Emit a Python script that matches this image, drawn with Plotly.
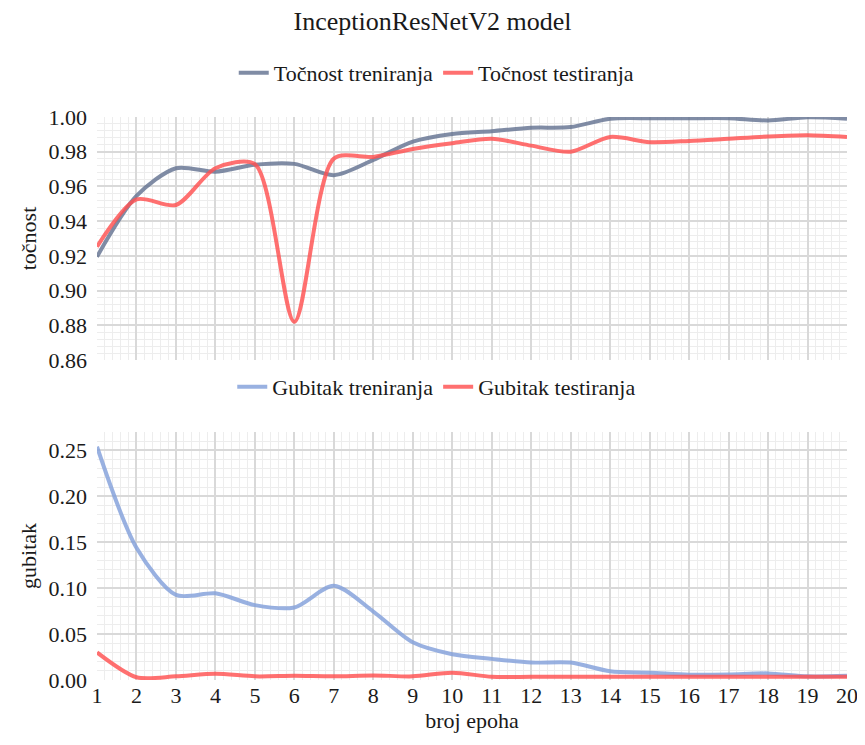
import plotly.graph_objects as go
from plotly.subplots import make_subplots

epochs = list(range(1, 21))
acc_train = [0.9195, 0.9545, 0.9705, 0.9685, 0.9725, 0.9730, 0.9665, 0.9753, 0.9858, 0.9902,
             0.9918, 0.9938, 0.9942, 0.9990, 0.9993, 0.9993, 0.9993, 0.9980, 0.9998, 0.9990]
acc_test = [0.9253, 0.9525, 0.9493, 0.9705, 0.9728, 0.8820, 0.9760, 0.9770, 0.9816, 0.9849,
            0.9875, 0.9835, 0.9800, 0.9885, 0.9855, 0.9862, 0.9875, 0.9888, 0.9895, 0.9885]
loss_train = [0.2540, 0.1440, 0.0926, 0.0944, 0.0815, 0.0790, 0.1026, 0.0745, 0.0410, 0.0280,
              0.0230, 0.0190, 0.0190, 0.0095, 0.0080, 0.0058, 0.0060, 0.0072, 0.0040, 0.0045]
loss_test = [0.0300, 0.0030, 0.0040, 0.0068, 0.0040, 0.0045, 0.0040, 0.0050, 0.0040, 0.0080,
             0.0035, 0.0035, 0.0035, 0.0035, 0.0035, 0.0035, 0.0035, 0.0035, 0.0035, 0.0035]
x_ticks = list(range(1, 21))

FONT = "Liberation Serif, 'Times New Roman', 'DejaVu Serif', serif"
TXT = "#1a1a1a"
C_GRAY = "rgba(100,115,145,0.82)"
C_RED = "rgba(255,80,80,0.82)"
C_BLUE = "rgba(130,160,218,0.82)"

# page offset of 8px (body margin) is compensated in the figure size/margins
W, H = 849, 729
fig = make_subplots(rows=2, cols=1, shared_xaxes=False, vertical_spacing=0.0)

def add(y, name, color, row, legend):
    fig.add_trace(go.Scatter(x=epochs, y=y, name=name, mode="lines",
                             line=dict(color=color, width=4, shape="spline", smoothing=0.8),
                             legend=legend), row=row, col=1)

add(acc_train, "Točnost treniranja", C_GRAY, 1, "legend")
add(acc_test, "Točnost testiranja", C_RED, 1, "legend")
add(loss_train, "Gubitak treniranja", C_BLUE, 2, "legend2")
add(loss_test, "Gubitak testiranja", C_RED, 2, "legend2")

grid_major = "#d9d9d9"
grid_minor = "#ededed"
FS = 22

xcommon = dict(range=[1, 20], tickmode="array", tickvals=x_ticks, showgrid=True,
               gridcolor=grid_major, gridwidth=1.5, zeroline=False, showline=False,
               ticklabeloverflow="allow",
               minor=dict(dtick=0.2, tick0=1, showgrid=True, gridcolor=grid_minor, gridwidth=1),
               tickfont=dict(family=FONT, size=FS, color=TXT))

ycommon = dict(showgrid=True, gridcolor=grid_major, gridwidth=1.5, zeroline=False,
               tickformat=".2f", ticklabelstandoff=9,
               tickfont=dict(family=FONT, size=FS, color=TXT))

fig.update_layout(
    font=dict(family=FONT, color=TXT),
    xaxis=dict(**xcommon, domain=[0, 1], showticklabels=False, anchor="y"),
    xaxis2=dict(**xcommon, domain=[0, 1], anchor="y2",
                title=dict(text="broj epoha", font=dict(family=FONT, size=FS, color=TXT), standoff=3)),
    yaxis=dict(**ycommon, domain=[0.5684, 1.0], range=[0.86, 1.0], dtick=0.02, tick0=0.86,
               minor=dict(dtick=0.004, tick0=0.86, showgrid=True, gridcolor=grid_minor, gridwidth=1),
               title=dict(text="točnost", font=dict(family=FONT, size=FS, color=TXT), standoff=5)),
    yaxis2=dict(**ycommon, domain=[0.0, 0.4405], range=[0, 0.27],
                tickvals=[0, 0.05, 0.10, 0.15, 0.20, 0.25],
                minor=dict(dtick=0.01, tick0=0, showgrid=True, gridcolor=grid_minor, gridwidth=1),
                title=dict(text="gubitak", font=dict(family=FONT, size=FS, color=TXT), standoff=5)),
    width=W, height=H,
    margin=dict(l=89, r=10, t=109, b=57, autoexpand=False),
    plot_bgcolor="white", paper_bgcolor="white",
    title=dict(text="InceptionResNetV2 model", x=0.5, xref="container", xanchor="center",
               y=1 - 13 / H, yref="container", yanchor="middle",
               font=dict(family=FONT, size=26, color=TXT)),
    legend=dict(orientation="h", x=0.453, xref="paper", xanchor="center",
                y=(680 - 73) / 563, yref="paper", yanchor="middle",
                font=dict(family=FONT, size=FS, color=TXT), bgcolor="rgba(0,0,0,0)"),
    legend2=dict(orientation="h", x=0.453, xref="paper", xanchor="center",
                 y=(680 - 387) / 563, yref="paper", yanchor="middle",
                 font=dict(family=FONT, size=FS, color=TXT), bgcolor="rgba(0,0,0,0)"),
)

fig.write_html("out.html")
